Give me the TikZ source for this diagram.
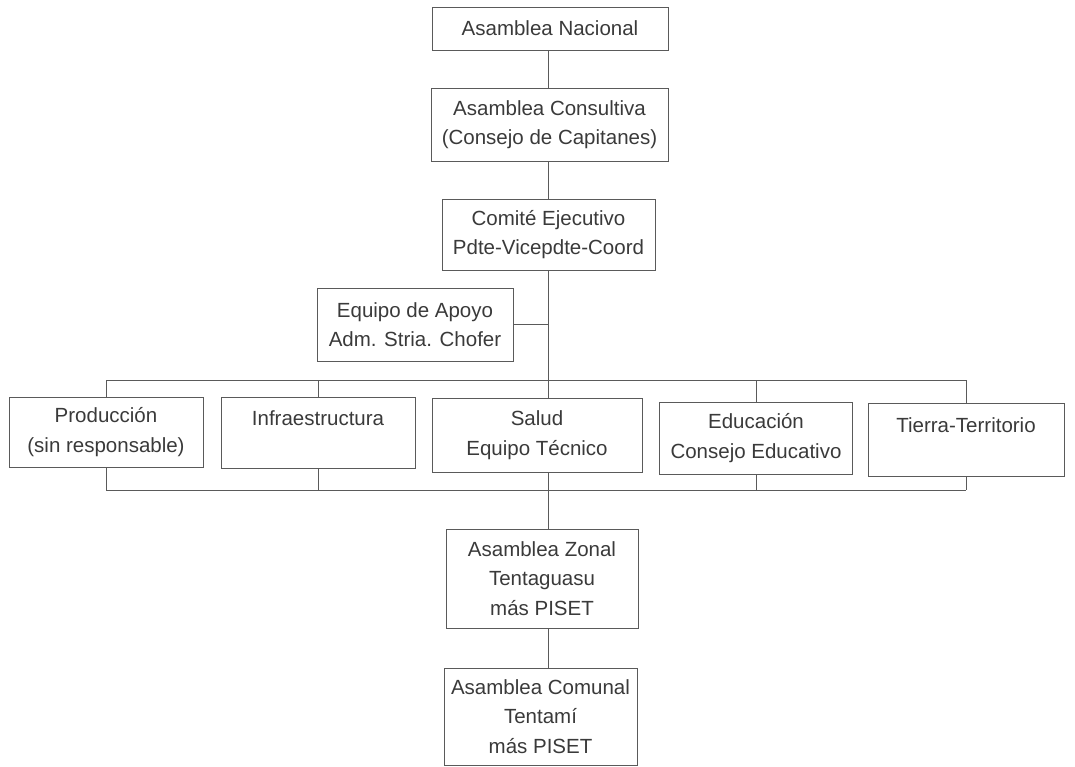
\documentclass[tikz,border=0pt]{standalone}
\usepackage{fontspec}
\setmainfont{Liberation Sans}
\definecolor{ln}{HTML}{5A5A5A}
\definecolor{tx}{HTML}{3A3A3A}
\begin{document}
\begin{tikzpicture}[x=1pt,y=-1pt,
  box/.style={draw=ln, line width=0.9pt, align=center, text=tx, inner sep=0pt,
    font=\fontsize{20.5}{29.5}\selectfont},
  conn/.style={draw=ln, line width=0.9pt}]
\useasboundingbox (0,0) rectangle (1075,767);
\coordinate (sp) at (548,0);
\node[box, minimum width=236pt, minimum height=43pt] (nac) at (550,28.5) {Asamblea Nacional};
\node[box, minimum width=237pt, minimum height=73pt] (cons) at (549.5,124.5) {Asamblea Consultiva\\(Consejo de Capitanes)};
\node[box, minimum width=213pt, minimum height=71pt] (com) at (548.5,234.5) {Comité Ejecutivo\\Pdte-Vicepdte-Coord};
\node[box, minimum width=196pt, minimum height=73pt] (apoyo) at (415,324.5) {Equipo de Apoyo\\Adm. Stria. Chofer};
\node[box, minimum width=194pt, minimum height=70pt] (prod) at (106,432) {Producción\\(sin responsable)};
\node[box, minimum width=194pt, minimum height=71pt] (infra) at (318,432.5) {Infraestructura\\\mbox{}};
\node[box, minimum width=210pt, minimum height=74pt] (salud) at (537,435) {Salud\\Equipo Técnico};
\node[box, minimum width=193pt, minimum height=72pt] (edu) at (756,438) {Educación\\Consejo Educativo};
\node[box, minimum width=196pt, minimum height=73pt] (tierra) at (966,439.5) {Tierra-Territorio\\\mbox{}};
\node[box, minimum width=192pt, minimum height=99pt] (zonal) at (542,578.5) {Asamblea Zonal\\Tentaguasu\\más PISET};
\node[box, minimum width=193pt, minimum height=97pt] (comunal) at (540.5,716.5) {Asamblea Comunal\\Tentamí\\más PISET};
\coordinate (tL) at (106,380);
\coordinate (tR) at (966,380);
\coordinate (bL) at (106,490);
\coordinate (bR) at (966,490);
\draw[conn] (nac.south -| sp) -- (cons.north -| sp);
\draw[conn] (cons.south -| sp) -- (com.north -| sp);
\draw[conn] (com.south -| sp) -- (tL -| sp);
\draw[conn] (apoyo.east) -- (apoyo.east -| sp);
\draw[conn] (tL) -- (tR);
\draw[conn] (bL) -- (bR);
\draw[conn] (tL) -- (prod.north);
\draw[conn] (tL -| infra) -- (infra.north);
\draw[conn] (tL -| sp) -- (salud.north -| sp);
\draw[conn] (tL -| edu) -- (edu.north);
\draw[conn] (tR) -- (tierra.north);
\draw[conn] (prod.south) -- (bL);
\draw[conn] (infra.south) -- (bL -| infra);
\draw[conn] (salud.south -| sp) -- (zonal.north -| sp);
\draw[conn] (edu.south) -- (bL -| edu);
\draw[conn] (tierra.south) -- (bR);
\draw[conn] (zonal.south -| sp) -- (comunal.north -| sp);
\end{tikzpicture}
\end{document}
